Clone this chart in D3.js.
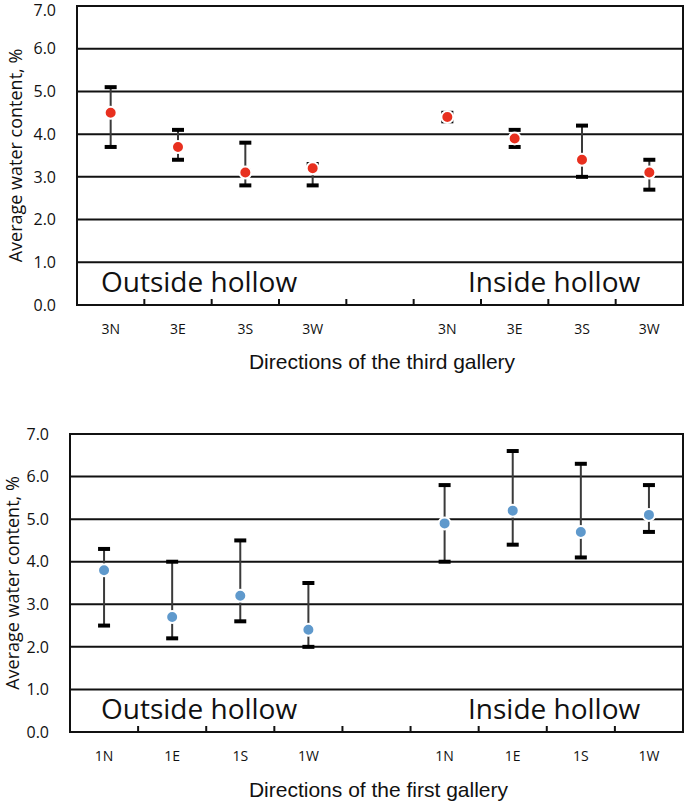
<!DOCTYPE html>
<html>
<head>
<meta charset="utf-8">
<script src="https://cdn.jsdelivr.net/npm/d3@7"></script>
<style>
  body { margin: 0; background: #fff; }
  svg { display: block; }
  .tick-y { font-family: "Open Sans", sans-serif; font-size: 16px; fill: #111; }
  .tick-x { font-family: "Open Sans", sans-serif; font-size: 14px; fill: #111; }
  .ytitle { font-family: "Open Sans", sans-serif; font-size: 18px; fill: #111; }
  .xtitle { font-family: "Liberation Sans", Arial, sans-serif; font-size: 21px; fill: #111; }
  .note { font-family: "Open Sans", sans-serif; font-size: 28px; fill: #111; }
</style>
</head>
<body>
<script>
// categories (blank slot separates outside / inside hollow)
var thirdLabels = ["3N", "3E", "3S", "3W", "", "3N", "3E", "3S", "3W"];
var thirdMean   = [4.5, 3.7, 3.1, 3.2, null, 4.4, 3.9, 3.4, 3.1];
var thirdUpper  = [5.1, 4.1, 3.8, 3.3, null, 4.5, 4.1, 4.2, 3.4];
var thirdLower  = [3.7, 3.4, 2.8, 2.8, null, 4.3, 3.7, 3.0, 2.7];

var firstLabels = ["1N", "1E", "1S", "1W", "", "1N", "1E", "1S", "1W"];
var firstMean   = [3.8, 2.7, 3.2, 2.4, null, 4.9, 5.2, 4.7, 5.1];
var firstUpper  = [4.3, 4.0, 4.5, 3.5, null, 5.8, 6.6, 6.3, 5.8];
var firstLower  = [2.5, 2.2, 2.6, 2.0, null, 4.0, 4.4, 4.1, 4.7];

var yTicks = [0, 1, 2, 3, 4, 5, 6, 7];

var svg = d3.select("body").append("svg")
	.attr("width", 685)
	.attr("height", 803);

/**
 * draws one panel of mean points with min/max bars
 */
function drawPanel(box, labels, mean, upper, lower, color, xTitle, titleY, yTitleX)
{
	var idx = d3.range(labels.length);

	var x = d3.scaleBand()
		.domain(idx)
		.range([box.left, box.right])
		.padding(0);

	var y = d3.scaleLinear()
		.domain([0, 7])
		.range([box.bottom, box.top]);

	var g = svg.append("g");

	// horizontal grid lines
	g.selectAll("line.grid")
		.data(yTicks.slice(1, -1))
		.enter()
		.append("line")
		.attr("x1", box.left)
		.attr("x2", box.right)
		.attr("y1", function (d) { return y(d); })
		.attr("y2", function (d) { return y(d); })
		.attr("stroke", "#111")
		.attr("stroke-width", 2);

	// frame
	g.append("rect")
		.attr("x", box.left)
		.attr("y", box.top)
		.attr("width", box.right - box.left)
		.attr("height", box.bottom - box.top)
		.attr("fill", "none")
		.attr("stroke", "#111")
		.attr("stroke-width", 2);

	// tick marks between categories, pointing inward
	g.selectAll("line.xtick")
		.data(idx.slice(0, -1))
		.enter()
		.append("line")
		.attr("x1", function (d) { return x(d) + x.bandwidth(); })
		.attr("x2", function (d) { return x(d) + x.bandwidth(); })
		.attr("y1", box.bottom)
		.attr("y2", box.bottom - 6)
		.attr("stroke", "#111")
		.attr("stroke-width", 2);

	// y tick labels (kept just inside the page at the very top)
	g.selectAll("text.tick-y")
		.data(yTicks)
		.enter()
		.append("text")
		.attr("class", "tick-y")
		.attr("x", box.left - 21)
		.attr("y", function (d) { return Math.max(y(d), 10); })
		.attr("dy", "0.36em")
		.attr("text-anchor", "end")
		.text(function (d) { return d3.format(".1f")(d); });

	// x tick labels
	g.selectAll("text.tick-x")
		.data(idx)
		.enter()
		.append("text")
		.attr("class", "tick-x")
		.attr("x", function (d) { return x(d) + x.bandwidth() / 2; })
		.attr("y", box.bottom + 29)
		.attr("text-anchor", "middle")
		.text(function (d) { return labels[d]; });

	var pts = idx.filter(function (i) { return mean[i] !== null; });

	// error bars
	var bars = g.selectAll("g.bar")
		.data(pts)
		.enter()
		.append("g");

	bars.append("line")
		.attr("x1", function (d) { return x(d) + x.bandwidth() / 2; })
		.attr("x2", function (d) { return x(d) + x.bandwidth() / 2; })
		.attr("y1", function (d) { return y(upper[d]); })
		.attr("y2", function (d) { return y(lower[d]); })
		.attr("stroke", "#3a3a3a")
		.attr("stroke-width", 2);

	[upper, lower].forEach(function (arr) {
		bars.append("line")
			.attr("x1", function (d) { return x(d) + x.bandwidth() / 2 - 6; })
			.attr("x2", function (d) { return x(d) + x.bandwidth() / 2 + 6; })
			.attr("y1", function (d) { return y(arr[d]); })
			.attr("y2", function (d) { return y(arr[d]); })
			.attr("stroke", "#000")
			.attr("stroke-width", 4);
	});

	bars.append("circle")
		.attr("cx", function (d) { return x(d) + x.bandwidth() / 2; })
		.attr("cy", function (d) { return y(mean[d]); })
		.attr("r", 6)
		.attr("fill", color)
		.attr("stroke", "#fff")
		.attr("stroke-width", 2);

	// region notes
	g.append("text")
		.attr("class", "note")
		.attr("x", 101)
		.attr("y", box.bottom - 13)
		.text("Outside hollow");

	g.append("text")
		.attr("class", "note")
		.attr("x", 468)
		.attr("y", box.bottom - 13)
		.text("Inside hollow");

	// axis titles
	g.append("text")
		.attr("class", "xtitle")
		.attr("x", (box.left + box.right) / 2 + 2)
		.attr("y", titleY)
		.attr("dy", "0.35em")
		.attr("text-anchor", "middle")
		.text(xTitle);

	g.append("text")
		.attr("class", "ytitle")
		.attr("transform", "translate(" + yTitleX + "," + ((box.top + box.bottom) / 2) + ") rotate(-90)")
		.attr("dy", "0.35em")
		.attr("text-anchor", "middle")
		.text("Average water content, %");
}

drawPanel({ left: 77, right: 683, top: 6, bottom: 305 },
	thirdLabels, thirdMean, thirdUpper, thirdLower, "#e8301f",
	"Directions of the third gallery", 362, 16);

drawPanel({ left: 70, right: 683, top: 434, bottom: 732 },
	firstLabels, firstMean, firstUpper, firstLower, "#5f99cc",
	"Directions of the first gallery", 790, 13);
</script>
</body>
</html>
